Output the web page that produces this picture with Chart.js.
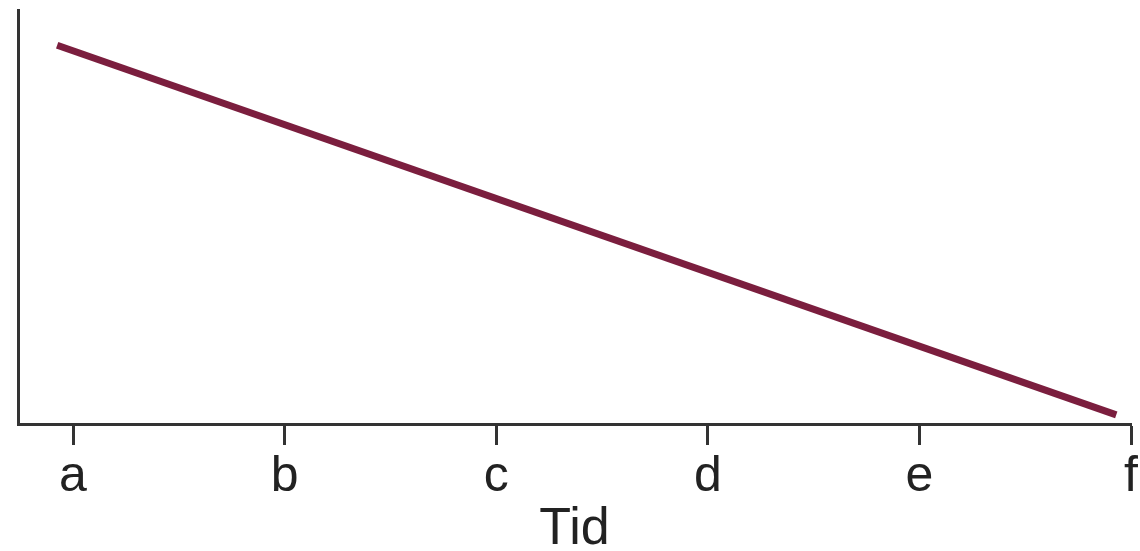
<!DOCTYPE html>
<html>
<head>
<meta charset="utf-8">
<script src="https://cdn.jsdelivr.net/npm/chart.js@4/dist/chart.umd.min.js"></script>
<style>
  html, body { margin: 0; padding: 0; background: #fff; }
  canvas { display: block; }
</style>
</head>
<body>
<canvas id="chart" width="1140" height="551"></canvas>
<script>
// category labels on the time axis
const categories = ['a', 'b', 'c', 'd', 'e', 'f'];
// line runs from just before "a" to just before "f"
const lineX = [-0.075, 4.93];
const lineY = [91.5, 2.2];

const axisColor = '#333333';
const lineColor = '#7b1e3e';

const ctx = document.querySelector('#chart').getContext('2d');
new Chart(ctx, {
    type: 'line',
    data: {
        datasets: [{
            data: lineX.map((x, i) => ({ x: x, y: lineY[i] })),
            borderColor: lineColor,
            borderWidth: 7,
            pointRadius: 0,
            tension: 0
        }]
    },
    options: {
        responsive: false,
        animation: false,
        layout: { padding: { left: 18, top: 10, right: 7, bottom: 0 } },
        plugins: { legend: { display: false }, tooltip: { enabled: false } },
        scales: {
            x: {
                type: 'linear',
                min: -0.26,
                max: 5,
                afterBuildTicks: scale => {
                    scale.ticks = categories.map((c, i) => ({ value: i }));
                },
                afterFit: scale => { scale.height = 127; },
                ticks: {
                    callback: value => categories[value],
                    color: '#222',
                    padding: 2,
                    maxRotation: 0,
                    font: { family: 'Liberation Sans, Arial, sans-serif', size: 50 }
                },
                grid: {
                    display: true,
                    drawOnChartArea: false,
                    drawTicks: true,
                    tickLength: 21,
                    tickWidth: 3,
                    tickColor: axisColor
                },
                border: { display: true, color: axisColor, width: 3 },
                title: {
                    display: true,
                    text: 'Tid',
                    color: '#222',
                    padding: { top: -10, bottom: -10 },
                    font: { family: 'Liberation Sans, Arial, sans-serif', size: 52 }
                }
            },
            y: {
                min: 0,
                max: 100,
                ticks: { display: false },
                grid: { display: false },
                border: { display: true, color: axisColor, width: 3 },
                afterFit: scale => { scale.width = 0; }
            }
        }
    }
});
</script>
</body>
</html>
